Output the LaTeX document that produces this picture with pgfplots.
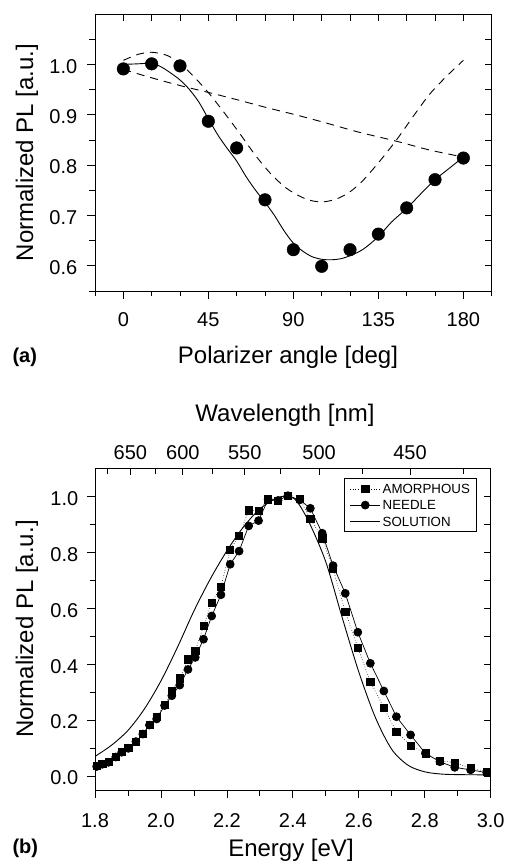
\documentclass[border=0pt]{standalone}
\usepackage{fontspec}
\setmainfont{Liberation Sans}
\usepackage{pgfplots}
\pgfplotsset{compat=1.18}

\pgfplotsset{
  frame/.style={scale only axis, axis line style={line width=0.9pt},
    tick style={line width=0.8pt, black},
    /pgf/number format/assume math mode=true,
    tick label style={font=\fontsize{20}{24}\selectfont}},
  outer/.style={frame, tick align=outside, xtick pos=left, ytick pos=left,
    major tick length=8pt, minor tick length=5.5pt},
  inner/.style={frame, tick align=inside, xtick pos=right, ytick pos=right,
    major tick length=7pt, minor tick length=6pt, yticklabels={}},
}
\newcommand{\lab}{\fontsize{24}{28}\selectfont}

\begin{document}
\begin{tikzpicture}
\useasboundingbox (0,0) rectangle (504pt,865pt);

% ---------- (a) polarizer angle ----------
\begin{axis}[inner, at={(95pt,574pt)}, anchor=south west,
  width=396.7pt, height=277pt,
  xmin=-15, xmax=195, ymin=0.55, ymax=1.10,
  xtick={-15,0,...,195}, xticklabels={},
  ytick={0.55,0.60,0.65,0.70,0.75,0.80,0.85,0.90,0.95,1.00,1.05}]
\end{axis}
\begin{axis}[outer, at={(95pt,574pt)}, anchor=south west,
  width=396.7pt, height=277pt,
  xmin=-15, xmax=195, ymin=0.55, ymax=1.10,
  xtick={0,45,90,135,180}, minor xtick={-15,15,30,60,75,105,120,150,165,195},
  ytick={0.6,0.7,0.8,0.9,1.0}, minor ytick={0.55,0.65,0.75,0.85,0.95,1.05},
  yticklabel={\pgfmathprintnumber[fixed,fixed zerofill,precision=1]{\tick}},
  xticklabel style={anchor=base, inner sep=0pt, yshift=-28pt},
  yticklabel style={anchor=east, inner sep=0pt, xshift=-9.5pt, yshift=-2pt}]
% upper dashed model
\addplot[black, line width=0.9pt, dash pattern=on 8pt off 6pt, smooth] coordinates {
 (0,1.008) (8,1.020) (15,1.024) (23,1.018) (30,1.002) (37,0.977) (45,0.944)
 (53,0.906) (61,0.866) (70,0.819) (78,0.783) (86,0.755) (94,0.737) (100,0.729)
 (106,0.727) (113,0.733) (120,0.747) (127,0.770) (136,0.809) (145,0.852)
 (153.5,0.897) (162,0.940) (171,0.976) (180,1.008)};
% lower dashed model
\addplot[black, line width=0.9pt, dash pattern=on 8pt off 6pt, smooth] coordinates {
 (0,0.990) (7,0.982) (20,0.968) (31,0.957) (48.5,0.941) (61,0.929) (77,0.913)
 (89,0.902) (106,0.885) (124,0.866) (145,0.847) (162,0.830) (180,0.816)};
% fit
\addplot[black, line width=0.9pt, smooth] coordinates {
 (0,1.000) (7.5,1.001) (15,1.002) (20,0.995) (25,0.983) (30,0.969) (35,0.950)
 (40,0.925) (45,0.892) (50,0.860) (55,0.833) (60,0.808) (65,0.777) (70,0.750)
 (75,0.726) (80,0.700) (85,0.670) (90,0.645) (95,0.629) (100,0.618) (105,0.613)
 (110,0.612) (115,0.614) (120,0.620) (127,0.633) (135,0.658) (142,0.687)
 (150,0.714) (158,0.745) (165,0.771) (173,0.795) (180,0.816)};
% measured
\addplot[only marks, mark=*, mark size=6.3pt, black] coordinates {
 (0,0.991) (15,1.001) (30,0.997) (45,0.887) (60,0.834) (75,0.731) (90,0.632)
 (105,0.599) (120,0.632) (135,0.663) (150,0.715) (165,0.771) (180,0.814)};
\end{axis}

\node[rotate=90, anchor=base, font=\lab] at (33pt,712.5pt) {Normalized PL [a.u.]};
\node[anchor=base, font=\lab] at (288pt,501pt) {Polarizer angle [deg]};
\node[anchor=base west, font=\bfseries\fontsize{20}{24}\selectfont] at (9pt,502.5pt) {(a)};

% ---------- (b) spectra ----------
\begin{axis}[inner, at={(95pt,75pt)}, anchor=south west,
  width=395.7pt, height=321.7pt,
  xmin=1.8, xmax=3.0, ymin=-0.05, ymax=1.1,
  xtick={1.90745,2.06640,2.25425,2.47968,2.75520},
  xticklabels={650,600,550,500,450},
  minor xtick={1.83680,1.98374,2.15624,2.36160,2.61019,2.91727},
  xticklabel pos=right,
  xticklabel style={anchor=base, inner sep=0pt, yshift=8.3pt},
  ytick={0,0.1,0.2,0.3,0.4,0.5,0.6,0.7,0.8,0.9,1.0}]
\end{axis}
\begin{axis}[outer, at={(95pt,75pt)}, anchor=south west,
  width=395.7pt, height=321.7pt,
  xmin=1.8, xmax=3.0, ymin=-0.05, ymax=1.1,
  xtick={1.8,2.0,2.2,2.4,2.6,2.8,3.0}, minor xtick={1.9,2.1,2.3,2.5,2.7,2.9},
  ytick={0,0.2,0.4,0.6,0.8,1.0}, minor ytick={0.1,0.3,0.5,0.7,0.9},
  xticklabel={\pgfmathprintnumber[fixed,fixed zerofill,precision=1]{\tick}},
  yticklabel={\pgfmathprintnumber[fixed,fixed zerofill,precision=1]{\tick}},
  xticklabel style={anchor=base, inner sep=0pt, yshift=-29pt},
  yticklabel style={anchor=east, inner sep=0pt, xshift=-8.5pt, yshift=-2pt},
  legend image code/.code={\draw[mark repeat=2,mark phase=2,#1]
    plot coordinates {(0pt,0pt) (15pt,0pt) (30pt,0pt)};},
  legend cell align=left,
  legend style={at={(rel axis cs:0.9661,0.9689)}, anchor=north east,
    draw=black, line width=0.8pt, font=\fontsize{13.3}{15}\selectfont,
    inner xsep=5pt, inner ysep=3.5pt, row sep=2.5pt,
    nodes={inner sep=2pt, text height=9.6pt, text depth=0pt}}]
\addplot[black, line width=0.6pt, dotted, mark=square*, mark size=3.6pt,
  mark options={solid}] coordinates {
 (1.805,0.036) (1.822,0.043) (1.841,0.051) (1.863,0.069) (1.881,0.087)
 (1.901,0.101) (1.924,0.123) (1.945,0.150) (1.965,0.182) (1.987,0.212)
 (2.011,0.254) (2.033,0.304) (2.057,0.349) (2.082,0.417) (2.104,0.447)
 (2.129,0.536) (2.154,0.620) (2.182,0.677) (2.210,0.810) (2.237,0.858)
 (2.266,0.950) (2.296,0.949) (2.325,0.989) (2.355,0.983) (2.385,1.002)
 (2.421,0.990) (2.453,0.919) (2.489,0.850) (2.522,0.740) (2.559,0.588)
 (2.597,0.459) (2.635,0.337) (2.676,0.244) (2.714,0.159) (2.757,0.109)
 (2.802,0.081) (2.846,0.055) (2.891,0.048) (2.939,0.028) (2.988,0.016)};
\addlegendentry{AMORPHOUS}
\addplot[black, line width=0.7pt, mark=*, mark size=4pt] coordinates {
 (1.805,0.034) (1.822,0.042) (1.841,0.049) (1.863,0.068) (1.881,0.085)
 (1.901,0.099) (1.924,0.123) (1.945,0.150) (1.965,0.182) (1.987,0.204)
 (2.011,0.252) (2.033,0.287) (2.057,0.325) (2.082,0.381) (2.104,0.424)
 (2.129,0.489) (2.154,0.572) (2.182,0.648) (2.210,0.757) (2.237,0.804)
 (2.266,0.894) (2.296,0.913) (2.325,0.989) (2.355,0.985) (2.385,1.002)
 (2.421,0.987) (2.453,0.957) (2.489,0.868) (2.522,0.752) (2.559,0.653)
 (2.597,0.514) (2.635,0.403) (2.676,0.304) (2.714,0.212) (2.757,0.147)
 (2.802,0.081) (2.846,0.051) (2.891,0.031) (2.939,0.022) (2.988,0.012)};
\addlegendentry{NEEDLE}
\addplot[black, line width=0.9pt, smooth] coordinates {
 (1.80,0.070) (1.85,0.110) (1.90,0.163) (1.95,0.240) (2.00,0.340)
 (2.05,0.460) (2.10,0.590) (2.15,0.705) (2.20,0.805) (2.25,0.890)
 (2.30,0.955) (2.35,0.993) (2.38,1.000) (2.41,0.985) (2.45,0.905)
 (2.50,0.765) (2.55,0.565) (2.60,0.372) (2.65,0.210) (2.70,0.095)
 (2.75,0.038) (2.80,0.015) (2.85,0.007) (2.90,0.005) (3.00,0.004)};
\addlegendentry{SOLUTION}
\end{axis}

\node[rotate=90, anchor=base, font=\lab] at (33pt,236pt) {Normalized PL [a.u.]};
\node[anchor=base, font=\lab] at (285pt,443pt) {Wavelength [nm]};
\node[anchor=base, font=\lab] at (291pt,8.3pt) {Energy [eV]};
\node[anchor=base west, font=\bfseries\fontsize{20}{24}\selectfont] at (9pt,11pt) {(b)};
\end{tikzpicture}
\end{document}
